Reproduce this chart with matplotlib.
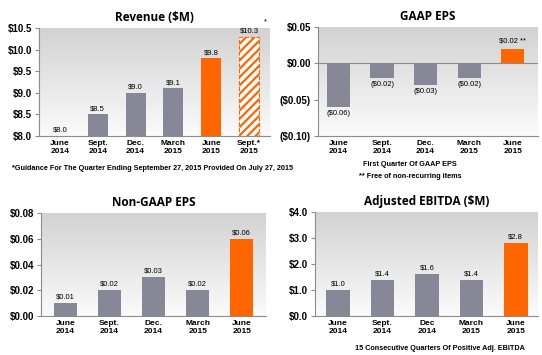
import matplotlib
import numpy as np

matplotlib.use("Agg")
import matplotlib.pyplot as plt
from matplotlib.colors import LinearSegmentedColormap

# --- Data ---
REV_LABELS = ["June\n2014", "Sept.\n2014", "Dec.\n2014", "March\n2015", "June\n2015", "Sept.*\n2015"]
REV_VALUES = [8.0, 8.5, 9.0, 9.1, 9.8, 10.3]
REV_TICKS = [8.0, 8.5, 9.0, 9.5, 10.0, 10.5]

EPS_LABELS = ["June\n2014", "Sept.\n2014", "Dec.\n2014", "March\n2015", "June\n2015"]
GAAP_VALUES = [-0.06, -0.02, -0.03, -0.02, 0.02]
GAAP_TICKS = [-0.10, -0.05, 0.0, 0.05]
NONGAAP_VALUES = [0.01, 0.02, 0.03, 0.02, 0.06]
NONGAAP_TICKS = [0.0, 0.02, 0.04, 0.06, 0.08]

EBITDA_LABELS = ["June\n2014", "Sept.\n2014", "Dec\n2014", "March\n2015", "June\n2015"]
EBITDA_VALUES = [1.0, 1.4, 1.6, 1.4, 2.8]
EBITDA_TICKS = [0.0, 1.0, 2.0, 3.0, 4.0]

# --- Styling ---
GRAY_BAR = "#878797"
ORANGE = "#ff6600"
AXIS_GRAY = "#8c8c8c"
BG = LinearSegmentedColormap.from_list("bg", ["#fbfbfb", "#d2d2d2"])
W, H = 542, 355

plt.rcParams["font.family"] = ["Liberation Sans", "DejaVu Sans"]
plt.rcParams["hatch.linewidth"] = 1.6
plt.rcParams["hatch.color"] = ORANGE


def make_axis(fig, left, top, right, bottom):
    axis = fig.add_axes([left / W, 1 - bottom / H, (right - left) / W, (bottom - top) / H])
    grad = np.linspace(0, 1, 256).reshape(-1, 1)
    axis.imshow(grad, cmap=BG, aspect="auto", extent=[0, 1, 0, 1], origin="lower",
                transform=axis.transAxes, zorder=0)
    for side in ["top", "right"]:
        axis.spines[side].set_visible(False)
    for side in ["left", "bottom"]:
        axis.spines[side].set_color(AXIS_GRAY)
        axis.spines[side].set_linewidth(0.8)
    axis.tick_params(axis="y", length=3, color=AXIS_GRAY, labelsize=7, pad=2)
    axis.tick_params(axis="x", length=0, labelsize=6, pad=3)
    return axis


def style_ticks(axis, labels):
    axis.set_xticks(np.arange(len(labels)))
    axis.set_xticklabels(labels, fontweight="bold", linespacing=1.1)
    for lab in axis.get_yticklabels():
        lab.set_fontweight("bold")


def title(axis, text):
    axis.set_title(text, fontsize=8.5, fontweight="bold", family=["Open Sans", "DejaVu Sans"], pad=5)


fig = plt.figure(figsize=(W / 100, H / 100), dpi=100)
fig.patch.set_facecolor("white")

# Revenue
ax = make_axis(fig, 39, 28, 270, 136)
x = np.arange(len(REV_VALUES))
colors = [GRAY_BAR] * 4 + [ORANGE]
ax.bar(x[:5], np.array(REV_VALUES[:5]) - 8.0, bottom=8.0, width=0.53, color=colors, zorder=2)
ax.bar(x[5], REV_VALUES[5] - 8.0, bottom=8.0, width=0.53, facecolor="white",
       edgecolor=ORANGE, hatch="////", linewidth=0.8, linestyle="--", zorder=2)
for xi, v in zip(x, REV_VALUES):
    ax.text(xi, v + 0.05, f"${v:.1f}", ha="center", va="bottom", fontsize=5.5, zorder=3)
ax.text(x[5] + 0.42, 10.55, "*", ha="center", va="bottom", fontsize=5.5)
ax.set_ylim(8.0, 10.5)
ax.set_yticks(REV_TICKS)
ax.set_yticklabels([f"${t:.1f}" for t in REV_TICKS])
ax.set_xlim(-0.55, 5.55)
style_ticks(ax, REV_LABELS)
title(ax, "Revenue ($M)")

# GAAP EPS
ax = make_axis(fig, 318, 27, 538, 136)
x = np.arange(len(GAAP_VALUES))
colors = [GRAY_BAR] * 4 + [ORANGE]
ax.bar(x, GAAP_VALUES, width=0.53, color=colors, zorder=2)
ax.axhline(0, color=AXIS_GRAY, linewidth=0.8, zorder=1)
for xi, v in zip(x, GAAP_VALUES):
    if v < 0:
        ax.text(xi, v - 0.004, f"(${abs(v):.2f})", ha="center", va="top", fontsize=5.5, zorder=3)
    else:
        ax.text(xi, v + 0.006, f"${v:.2f} **", ha="center", va="bottom", fontsize=5.5, zorder=3)
ax.set_ylim(-0.10, 0.05)
ax.set_yticks(GAAP_TICKS)
ax.set_yticklabels([f"(${abs(t):.2f})" if t < 0 else f"${t:.2f}" for t in GAAP_TICKS])
ax.set_xlim(-0.47, 4.58)
style_ticks(ax, EPS_LABELS)
title(ax, "GAAP EPS")

# Non-GAAP EPS
ax = make_axis(fig, 41, 213, 266, 316)
x = np.arange(len(NONGAAP_VALUES))
ax.bar(x, NONGAAP_VALUES, width=0.53, color=colors, zorder=2)
for xi, v in zip(x, NONGAAP_VALUES):
    ax.text(xi, v + 0.002, f"${v:.2f}", ha="center", va="bottom", fontsize=5.5, zorder=3)
ax.set_ylim(0, 0.08)
ax.set_yticks(NONGAAP_TICKS)
ax.set_yticklabels([f"${t:.2f}" for t in NONGAAP_TICKS])
ax.set_xlim(-0.55, 4.55)
style_ticks(ax, EPS_LABELS)
title(ax, "Non-GAAP EPS")

# Adjusted EBITDA
ax = make_axis(fig, 315, 212, 538, 316)
x = np.arange(len(EBITDA_VALUES))
ax.bar(x, EBITDA_VALUES, width=0.53, color=colors, zorder=2)
for xi, v in zip(x, EBITDA_VALUES):
    ax.text(xi, v + 0.1, f"${v:.1f}", ha="center", va="bottom", fontsize=5.5, zorder=3)
ax.set_ylim(0, 4.0)
ax.set_yticks(EBITDA_TICKS)
ax.set_yticklabels([f"${t:.1f}" for t in EBITDA_TICKS])
ax.set_xlim(-0.52, 4.5)
style_ticks(ax, EBITDA_LABELS)
title(ax, "Adjusted EBITDA ($M)")

# Footnotes
fig.text(12 / W, 1 - 169 / H, "*Guidance For The Quarter Ending September 27, 2015 Provided On July 27, 2015",
         fontsize=5.2, fontweight="bold", va="center", ha="left")
fig.text(410 / W, 1 - 164 / H, "First Quarter Of GAAP EPS", fontsize=5.2, fontweight="bold",
         va="center", ha="center")
fig.text(410 / W, 1 - 176 / H, "** Free of non-recurring items", fontsize=5.2, fontweight="bold",
         va="center", ha="center")
fig.text(440 / W, 1 - 348 / H, "15 Consecutive Quarters Of Positive Adj. EBITDA", fontsize=5.2,
         fontweight="bold", va="center", ha="center")

fig.savefig("out.png", dpi=100)
